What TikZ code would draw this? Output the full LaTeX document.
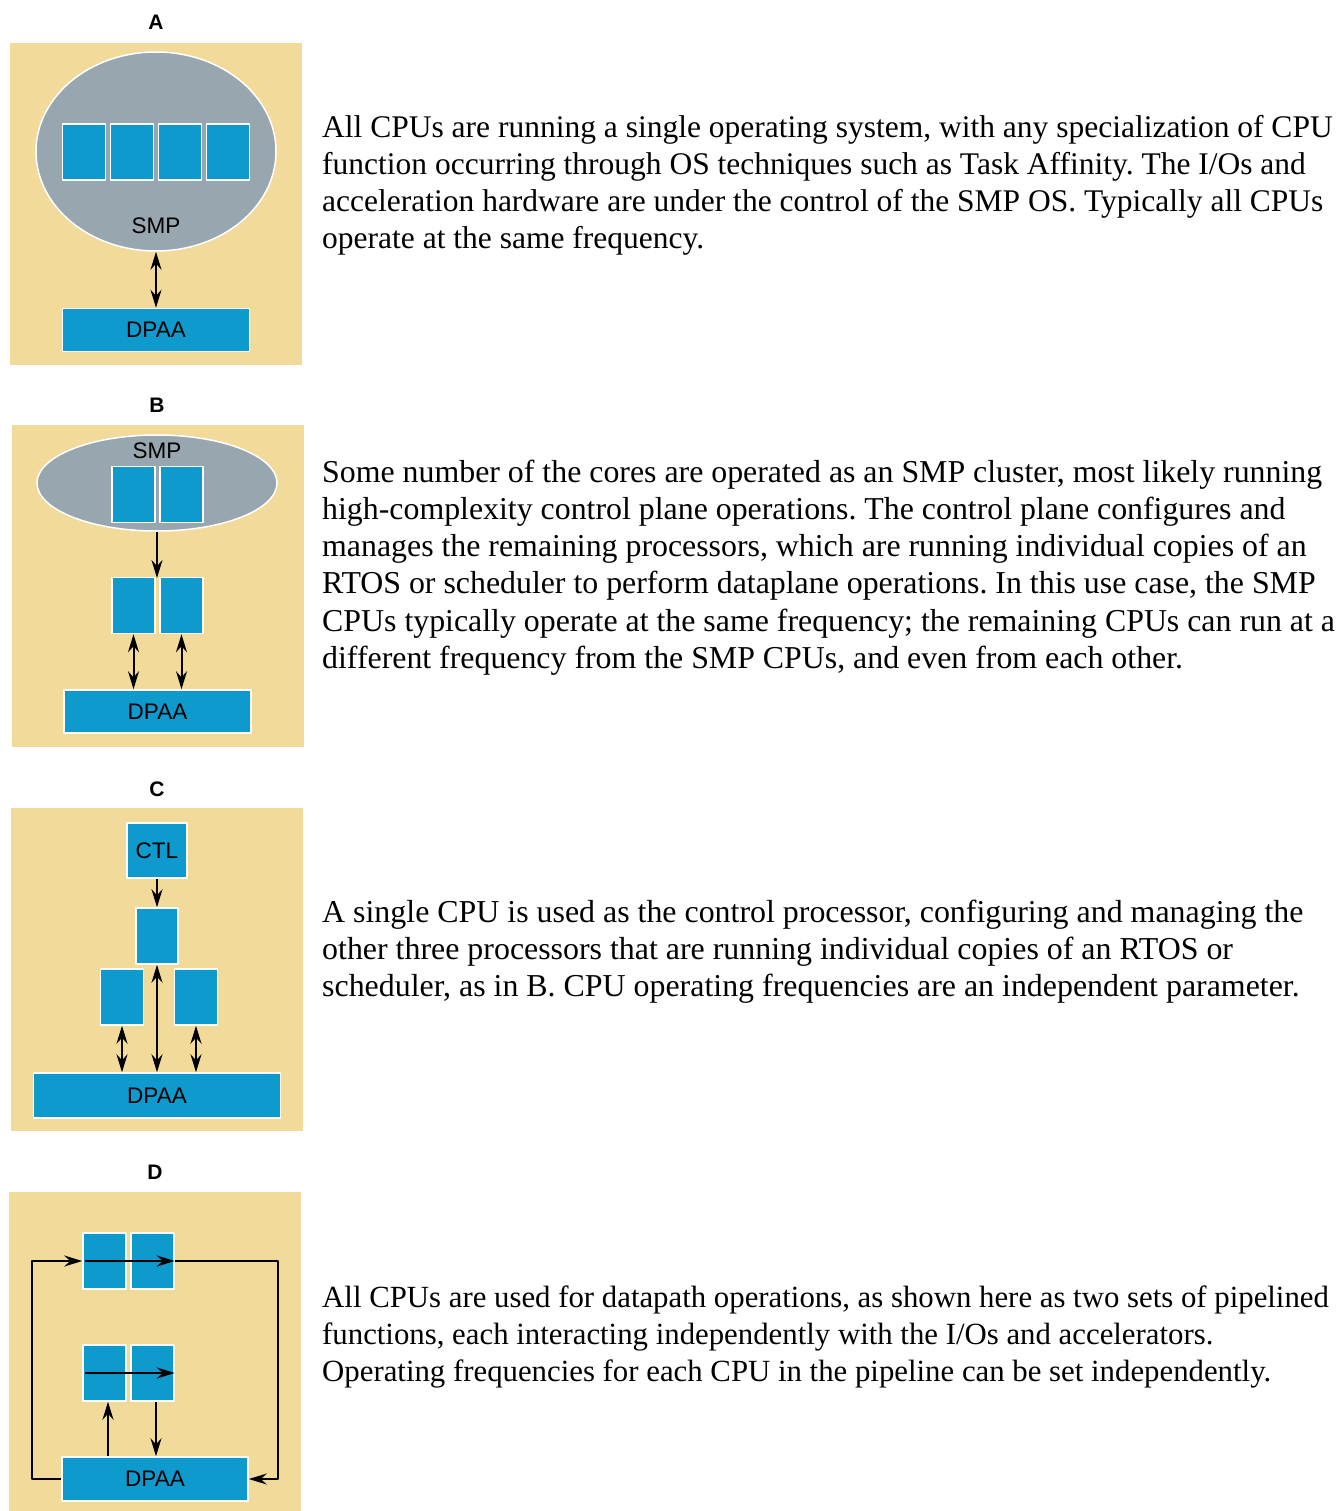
\documentclass[tikz,border=0pt]{standalone}
\usepackage{fontspec}
\setmainfont{Liberation Serif}
\setsansfont{Liberation Sans}
\usetikzlibrary{arrows.meta,shapes.geometric}
\definecolor{panelTan}{RGB}{242,218,155}
\definecolor{smpGrey}{RGB}{152,166,175}
\definecolor{cpuBlue}{RGB}{14,154,205}
\frenchspacing
\begin{document}
\begin{tikzpicture}[x=1pt,y=-1pt,>={Stealth[length=18pt,width=11pt,inset=6pt]},line join=bevel,
  cpu/.style={draw=white,line width=1.5pt,fill=cpuBlue,inner sep=0pt,minimum width=43pt,minimum height=56pt,
    font=\sffamily\fontsize{22.5}{27}\selectfont},
  dpaa/.style={cpu,minimum width=187pt,minimum height=43pt},
  smp/.style={ellipse,draw=white,line width=1.5pt,fill=smpGrey,inner sep=0pt},
  tag/.style={font=\sffamily\bfseries\fontsize{21}{25}\selectfont,inner sep=0pt},
  word/.style={font=\sffamily\fontsize{22.5}{27}\selectfont,inner sep=0pt},
  para/.style={anchor=base west,align=left,inner sep=0pt,font=\fontsize{#1}{37.3}\selectfont},
  link/.style={line width=2pt}]
\useasboundingbox (0,0) rectangle (1340,1511);
%% A
\fill[panelTan] (10,43) rectangle (302,365);
\node[tag] (tag_A) at (156,22) {A};
\node[smp,minimum width=240pt,minimum height=199pt] (smp_A) at (156,151.5) {};
\node[cpu] (cpu_A1) at (84,152) {};
\node[cpu] (cpu_A2) at (132,152) {};
\node[cpu] (cpu_A3) at (180,152) {};
\node[cpu] (cpu_A4) at (228,152) {};
\node[word] (smp_A_txt) at (156,226) {SMP};
\node[dpaa] (dpaa_A) at (156,330) {DPAA};
\draw[link,<->] (smp_A.south) -- (dpaa_A.north);
\node[para=31.5] (text_A) at (322,249) {All CPUs are running a single operating system, with any specialization of CPU\\
function occurring through OS techniques such as Task Affinity. The I/Os and\\
acceleration hardware are under the control of the SMP OS. Typically all CPUs\\
operate at the same frequency.};
%% B
\fill[panelTan] (12,425) rectangle (304,747);
\node[tag] (tag_B) at (157,405) {B};
\node[smp,minimum width=240pt,minimum height=96pt] (smp_B) at (157,483) {};
\node[word] (smp_B_txt) at (157,451) {SMP};
\node[cpu] (cpu_B1) at (133.5,494.5) {};
\node[cpu] (cpu_B2) at (181.5,494.5) {};
\node[cpu] (cpu_B3) at (133.5,605.5) {};
\node[cpu] (cpu_B4) at (181.5,605.5) {};
\coordinate (join_B) at (157,578);
\node[dpaa] (dpaa_B) at (157.5,711.5) {DPAA};
\draw[link,->] (smp_B.south) -- (join_B);
\draw[link,<->] (cpu_B3.south) -- (cpu_B3.south |- dpaa_B.north);
\draw[link,<->] (cpu_B4.south) -- (cpu_B4.south |- dpaa_B.north);
\node[para=31.85] (text_B) at (322,668.5) {Some number of the cores are operated as an SMP cluster, most likely running\\
high-complexity control plane operations. The control plane configures and\\
manages the remaining processors, which are running individual copies of an\\
RTOS or scheduler to perform dataplane operations. In this use case, the SMP\\
CPUs typically operate at the same frequency; the remaining CPUs can run at a\\
different frequency from the SMP CPUs, and even from each other.};
%% C
\fill[panelTan] (11,808) rectangle (303,1131);
\node[tag] (tag_C) at (157,789) {C};
\node[cpu,minimum width=60pt,minimum height=55pt] (ctl_C) at (157,850.5) {CTL};
\node[cpu,minimum width=42pt] (cpu_C1) at (157,936) {};
\node[cpu] (cpu_C2) at (122,997) {};
\node[cpu] (cpu_C3) at (196,997) {};
\node[dpaa,minimum width=247pt,minimum height=45pt] (dpaa_C) at (157,1095.5) {DPAA};
\draw[link,->] (ctl_C.south) -- (cpu_C1.north);
\draw[link,<->] (cpu_C1.south) -- (dpaa_C.north);
\draw[link,<->] (cpu_C2.south) -- (cpu_C2.south |- dpaa_C.north);
\draw[link,<->] (cpu_C3.south) -- (cpu_C3.south |- dpaa_C.north);
\node[para=31.9] (text_C) at (322,996.6) {A single CPU is used as the control processor, configuring and managing the\\
other three processors that are running individual copies of an RTOS or\\
scheduler, as in B. CPU operating frequencies are an independent parameter.};
%% D
\fill[panelTan] (9,1192) rectangle (301,1511);
\node[tag] (tag_D) at (155,1172) {D};
\node[cpu] (cpu_D1) at (104.5,1261) {};
\node[cpu] (cpu_D2) at (152.5,1261) {};
\node[cpu] (cpu_D3) at (104.5,1373) {};
\node[cpu] (cpu_D4) at (152.5,1373) {};
\node[dpaa,minimum width=186pt,minimum height=44pt] (dpaa_D) at (155,1479) {DPAA};
\coordinate (left_D) at (32,1479);
\coordinate (right_D) at (278,1261);
\draw[link,->] (dpaa_D.west) -- (left_D) |- (cpu_D1.west);
\draw[link,->] ([xshift=3pt]cpu_D1.west) -- (cpu_D2.east);
\draw[link,->] (cpu_D2.east) -- (right_D) |- (dpaa_D.east);
\draw[link,->] ([xshift=3pt]cpu_D3.west) -- (cpu_D4.east);
\draw[link,<-] ([xshift=3.5pt]cpu_D3.south) -- ([xshift=3.5pt]cpu_D3.south |- dpaa_D.north);
\draw[link,->] ([xshift=3.5pt]cpu_D4.south) -- ([xshift=3.5pt]cpu_D4.south |- dpaa_D.north);
\node[para=30.8] (text_D) at (322,1381.6) {All CPUs are used for datapath operations, as shown here as two sets of pipelined\\
functions, each interacting independently with the I/Os and accelerators.\\
Operating frequencies for each CPU in the pipeline can be set independently.};
%
\end{tikzpicture}
\end{document}
